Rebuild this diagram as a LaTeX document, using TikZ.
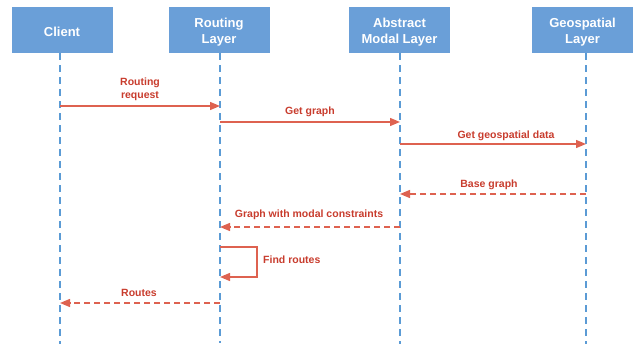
\documentclass[tikz,border=0pt]{standalone}
\usepackage{fontspec}
\setmainfont{Liberation Sans}
\usetikzlibrary{arrows.meta}
\definecolor{boxblue}{RGB}{106,159,216}
\definecolor{lifeblue}{RGB}{91,155,213}
\definecolor{arrred}{RGB}{222,98,80}
\definecolor{txtred}{RGB}{200,60,45}
\tikzset{
  actor/.style={fill=boxblue, draw=none, minimum width=101pt, minimum height=46pt, inner sep=0pt,
    text=white, font=\bfseries\fontsize{13}{16}\selectfont, align=center},
  lifeline/.style={draw=lifeblue, line width=1.4pt, dash pattern=on 7pt off 5pt},
  msg/.style={draw=arrred, line width=1.4pt, -{Triangle[length=10pt,width=8pt]}},
  reply/.style={msg, dash pattern=on 6pt off 4pt},
  lbl/.style={text=txtred, font=\bfseries\fontsize{10.5}{13}\selectfont, align=center, inner sep=0pt}
}
\begin{document}
\begin{tikzpicture}[x=1pt,y=-1pt]
\useasboundingbox (0,0) rectangle (633,348);
% actor boxes
\fill[boxblue] (12,7) rectangle (113,53);
\fill[boxblue] (169,7) rectangle (270,53);
\fill[boxblue] (349,7) rectangle (450,53);
\fill[boxblue] (532,7) rectangle (633,53);
% actor labels
\node[actor, fill=none] (client) at (62,32) {Client};
\node[actor, fill=none] (routing) at (219,32) {Routing\\Layer};
\node[actor, fill=none] (abstract) at (399.5,32) {Abstract\\Modal Layer};
\node[actor, fill=none] (geo) at (582.5,32) {Geospatial\\Layer};
% lifeline ends
\coordinate (clientS) at (60,53);   \coordinate (clientE) at (60,344);
\coordinate (routingS) at (220,53); \coordinate (routingE) at (220,343);
\coordinate (abstractS) at (400,53);\coordinate (abstractE) at (400,344);
\coordinate (geoS) at (586,53);     \coordinate (geoE) at (586,344);
\draw[lifeline] (clientS) -- (clientE);
\draw[lifeline] (routingS) -- (routingE);
\draw[lifeline] (abstractS) -- (abstractE);
\draw[lifeline] (geoS) -- (geoE);
% message points
\coordinate (m1a) at (60,106);  \coordinate (m1b) at (220,106);
\coordinate (m2a) at (220,122); \coordinate (m2b) at (400,122);
\coordinate (m3a) at (400,144); \coordinate (m3b) at (586,144);
\coordinate (m4a) at (586,194); \coordinate (m4b) at (400,194);
\coordinate (m5a) at (400,227); \coordinate (m5b) at (220,227);
\coordinate (m6a) at (220,247); \coordinate (m6b) at (220,277);
\coordinate (m7a) at (220,303); \coordinate (m7b) at (60,303);
% messages
\draw[msg] (m1a) -- (m1b);
\node[lbl] (l1) at (140,89) {Routing\\request};
\draw[msg] (m2a) -- (m2b);
\node[lbl] (l2) at (310,112) {Get graph};
\draw[msg] (m3a) -- (m3b);
\node[lbl] (l3) at (506,136) {Get geospatial data};
\draw[reply] (m4a) -- (m4b);
\node[lbl] (l4) at (489,185) {Base graph};
\draw[reply] (m5a) -- (m5b);
\node[lbl] (l5) at (309,215) {Graph with modal constraints};
\draw[msg, line width=1.3pt] (m6a) -- (257,247) -- (257,277) -- (m6b);
\node[lbl, anchor=west] (l6) at (263,260) {Find routes};
\draw[reply] (m7a) -- (m7b);
\node[lbl] (l7) at (139,293) {Routes};
\end{tikzpicture}
\end{document}
